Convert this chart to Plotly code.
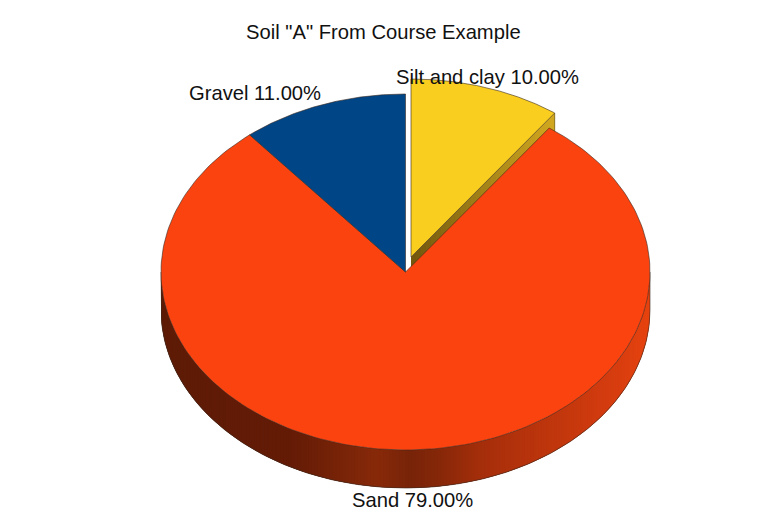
"""Soil "A" pie chart, drawn as a tilted 3D pie on pixel-scaled axes."""

import numpy as np
import plotly.graph_objects as go

TITLE = 'Soil "A" From Course Example'
categories = ["Gravel", "Sand", "Silt and clay"]
values = [11.0, 79.0, 10.0]

COLORS = ["#004586", "#fb4310", "#f9ce1e"]
OUTLINE = "#3a2a20"
FONT = "Liberation Sans, Arial, sans-serif"

# pie geometry, in page pixels
CX, CY = 405.5, 272
RX, RY = 244.5, 178
DEPTH = 38
EXPLODE_DX, EXPLODE_DY = 5.5, -15

# shading of the side wall, by page x
WALL_X = [161, 290, 335, 378, 410, 440, 480, 550, 620, 650]
WALL_RGB = [
    (94, 27, 6), (100, 27, 6), (118, 35, 8), (136, 42, 10), (120, 36, 9),
    (135, 40, 9), (165, 46, 11), (191, 54, 13), (217, 62, 16), (232, 68, 15),
]
# shading of the exploded slice's inner wall, from the centre outwards
INNER_RGB = [(115, 88, 14), (165, 132, 24), (212, 170, 32)]


def wall_colour(x):
    rgb = [np.interp(x, WALL_X, [c[i] for c in WALL_RGB]) for i in range(3)]
    return "rgb(%d,%d,%d)" % tuple(rgb)


def arc(start, end, n=120):
    # fractions of the pie run counter-clockwise from 12 o'clock
    t = np.linspace(start, end, n) * 2 * np.pi
    return CX - RX * np.sin(t), CY - RY * np.cos(t)


def polygon(x, y, fill, line=None, width=0.7):
    return go.Scatter(
        x=x, y=y, mode="lines", fill="toself", fillcolor=fill,
        line=dict(color=line or fill, width=width),
        hoverinfo="skip", showlegend=False,
    )


fig = go.Figure()

edges = np.cumsum([0] + values) / sum(values)

# exploded slice goes first, the sand top face covers the rest of its wall
sx, sy = arc(edges[2], edges[3], 60)
sx = sx + EXPLODE_DX
sy = sy + EXPLODE_DY
ax, ay = CX + EXPLODE_DX, CY + EXPLODE_DY
steps = np.linspace(0, 1, 30)
for k in range(len(steps) - 1):
    a = steps[k]
    b = steps[min(k + 2, len(steps) - 1)]
    x0, x1 = ax + a * (sx[0] - ax), ax + b * (sx[0] - ax)
    y0, y1 = ay + a * (sy[0] - ay), ay + b * (sy[0] - ay)
    rgb = [np.interp(a, [0, 0.5, 1], [c[i] for c in INNER_RGB]) for i in range(3)]
    fig.add_trace(polygon([x0, x1, x1, x0, x0], [y0, y1, y1 + DEPTH, y0 + DEPTH, y0],
                          "rgb(%d,%d,%d)" % tuple(rgb), width=0))
fig.add_trace(polygon([sx[0], sx[0]], [sy[0], sy[0] + DEPTH], "rgba(0,0,0,0)", "#6a5a20"))

# side wall of the big slice, lower half of the ellipse only
# each quad runs over into the next one so no seams show between them
wx, wy = arc(0.25, 0.75, 241)
for i in range(len(wx) - 1):
    j = min(i + 3, len(wx) - 1)
    fig.add_trace(polygon(
        [wx[i], wx[j], wx[j], wx[i], wx[i]],
        [wy[i], wy[j], wy[j] + DEPTH, wy[i] + DEPTH, wy[i]],
        wall_colour((wx[i] + wx[i + 1]) / 2), width=0,
    ))
fig.add_trace(go.Scatter(
    x=np.r_[wx[0], wx, wx[-1]], y=np.r_[wy[0], wy + DEPTH, wy[-1]], mode="lines",
    line=dict(color=OUTLINE, width=0.6), hoverinfo="skip", showlegend=False,
))

# top faces
for i in [1, 0, 2]:
    x, y = arc(edges[i], edges[i + 1], 200)
    x0, y0 = CX, CY
    if i == 2:
        x, y = x + EXPLODE_DX, y + EXPLODE_DY
        x0, y0 = ax, ay
    fig.add_trace(polygon(np.r_[x0, x, x0], np.r_[y0, y, y0], COLORS[i], OUTLINE, 0.6))

# text
labels = [f"{c} {v:.2f}%" for c, v in zip(categories, values)]
label_pos = [(255, 93), (412, 500), (487, 77)]
for text, (lx, ly) in zip(labels, label_pos):
    fig.add_annotation(x=lx, y=ly, text=text, showarrow=False,
                       font=dict(family=FONT, size=20.2, color="#111111"))
fig.add_annotation(x=383, y=32, text=TITLE, showarrow=False,
                   font=dict(family=FONT, size=20.2, color="#111111"))

fig.update_xaxes(range=[0, 767], visible=False, fixedrange=True)
fig.update_yaxes(range=[532, 0], visible=False, fixedrange=True)
fig.update_layout(
    width=767, height=532, margin=dict(l=0, r=0, t=0, b=0),
    paper_bgcolor="white", plot_bgcolor="white", showlegend=False,
)

fig.write_html("out.html", config={"displayModeBar": False},
               post_script="document.body.style.margin = '0';")
